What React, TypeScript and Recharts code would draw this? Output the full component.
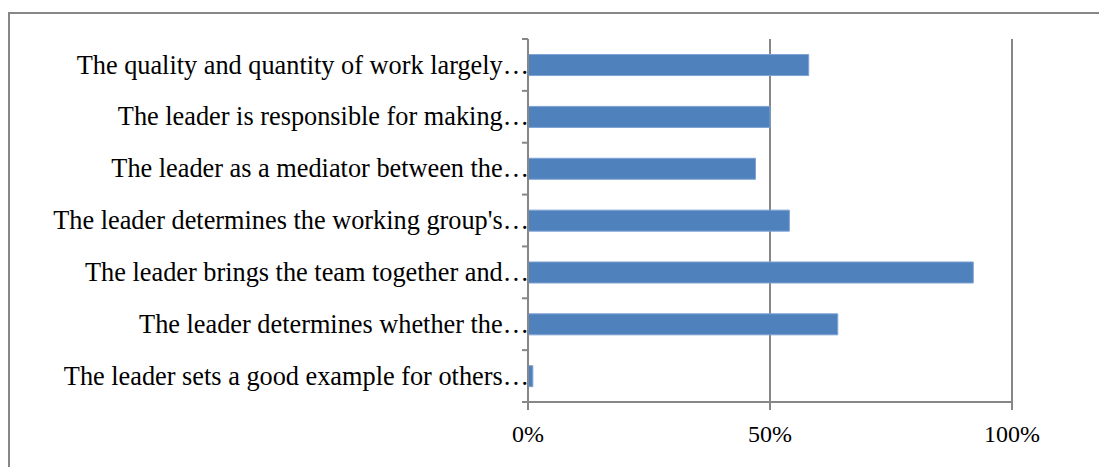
import React from "react";
import { BarChart, Bar, XAxis, YAxis, CartesianGrid } from "recharts";

const categories = [
  "The quality and quantity of work largely…",
  "The leader is responsible for making…",
  "The leader as a mediator between the…",
  "The leader determines the working group's…",
  "The leader brings the team together and…",
  "The leader determines whether the…",
  "The leader sets a good example for others…",
];
const values = [58, 50, 47, 54, 92, 64, 1];
const xTicks = [0, 50, 100];

const data = categories.map((c, i) => ({ name: c, value: values[i] }));

const W = 1099;
const H = 467;
const M = { top: 39, right: 87, left: 0, bottom: 35 };
const YW = 528;
const XH = 30;
const FONT = "Liberation Serif, Times New Roman, serif";
const FS_Y = 26.3;
const FS_X = 24;
const GRAY = "#878787";

const plotH = H - M.top - M.bottom - XH;
const band = plotH / categories.length;

const YTick = (props: any) => {
  const { x, y, payload, index } = props;
  return (
    <g>
      <line x1={x - 6} x2={x} y1={y - band / 2} y2={y - band / 2} stroke={GRAY} strokeWidth={2} />
      {index === categories.length - 1 && (
        <line x1={x - 6} x2={x} y1={y + band / 2} y2={y + band / 2} stroke={GRAY} strokeWidth={2} />
      )}
      <text x={x + 1} y={y} dy="0.33em" textAnchor="end" style={{ fontFamily: FONT, fontSize: FS_Y }} fill="#000">
        {payload.value}
      </text>
    </g>
  );
};

const XTick = (props: any) => {
  const { x, y, payload } = props;
  return (
    <text x={x} y={y} dy="0.71em" textAnchor="middle" style={{ fontFamily: FONT, fontSize: FS_X }} fill="#000">
      {`${payload.value}%`}
    </text>
  );
};

export default function App() {
  return (
    <div style={{ position: "absolute", left: 0, top: 0, width: W, height: H, background: "#fff", overflow: "hidden", fontFamily: FONT }}>
      <div
        style={{
          position: "absolute",
          left: 8,
          top: 12,
          width: W + 20,
          height: H + 20,
          border: `2px solid ${GRAY}`,
          boxSizing: "border-box",
        }}
      />
      <div style={{ position: "absolute", left: 0, top: 0 }}>
        <BarChart width={W} height={H} data={data} layout="vertical" margin={M} barCategoryGap="30%">
          <CartesianGrid horizontal={false} vertical={true} stroke={GRAY} strokeWidth={2} strokeDasharray="" />
          <XAxis
            type="number"
            domain={[0, 100]}
            ticks={xTicks}
            height={XH}
            stroke={GRAY}
            strokeWidth={2}
            tickSize={8}
            tickMargin={15}
            tick={<XTick />}
            interval={0}
          />
          <YAxis
            type="category"
            dataKey="name"
            width={YW}
            stroke={GRAY}
            strokeWidth={2}
            tickLine={false}
            tickSize={0}
            tickMargin={0}
            tick={<YTick />}
            interval={0}
          />
          <Bar dataKey="value" fill="#4F81BD" stroke="#7DA2D4" strokeWidth={1} isAnimationActive={false} />
        </BarChart>
      </div>
    </div>
  );
}
